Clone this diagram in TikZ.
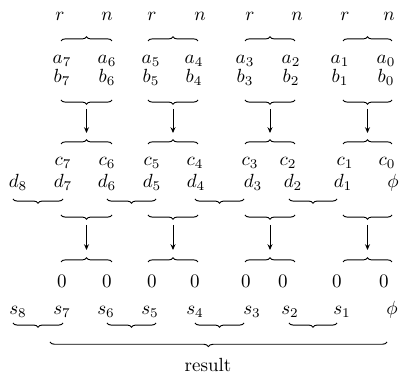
\documentclass[tikz,border=0pt]{standalone}
\usetikzlibrary{decorations.pathreplacing,arrows.meta}
\begin{document}
\begin{tikzpicture}[x=0.525pt,y=0.525pt,
  lbl/.style={inner sep=0pt,anchor=base},
  bup/.style={decorate,decoration={brace,amplitude=2.2pt},line width=0.5pt},
  bdown/.style={decorate,decoration={brace,mirror,amplitude=2.2pt},line width=0.5pt},
  flow/.style={-{Stealth[length=3pt,width=2.6pt]},line width=0.5pt}]
\useasboundingbox (0,0) rectangle (401,377);

% top labels
\foreach \k/\x/\t in {r1/60/r,n1/107/n,r2/152/r,n2/200/n,r3/250/r,n3/297/n,r4/345/r,n4/389/n}
  \node[lbl] (\k) at (\x,356) {$\t$};

% operand rows a and b
\foreach \i/\x in {7/62,6/107,5/151,4/194,3/245,2/291,1/340,0/386}{
  \node[lbl] (a\i) at (\x,313) {$a_{\i}$};
  \node[lbl] (b\i) at (\x,294) {$b_{\i}$};
}

% rows c and d
\foreach \i/\x in {7/63,6/107,5/152,4/195,3/250,2/288,1/345,0/387}
  \node[lbl] (c\i) at (\x,211) {$c_{\i}$};
\foreach \i/\x in {8/18,7/63,6/107,5/152,4/196,3/253,2/293,1/343}
  \node[lbl] (d\i) at (\x,189) {$d_{\i}$};
\node[lbl] (dphi) at (393,189) {$\phi$};

% zero row and sums
\foreach \i/\x in {7/62,6/107,5/152,4/195,3/246,2/283,1/337,0/384}
  \node[lbl] (z\i) at (\x,89) {$0$};
\foreach \i/\x in {8/18,7/62,6/106,5/150,4/195,3/252,2/290,1/342}
  \node[lbl] (s\i) at (\x,62) {$s_{\i}$};
\node[lbl] (sphi) at (392,62) {$\phi$};

\node[lbl] (res) at (208,5) {result};

% pairwise braces and arrows
\foreach \g/\l/\r in {1/61/112,2/148/198,3/245/295,4/343/392}{
  \coordinate (pL\g) at (\l,336); \coordinate (pR\g) at (\r,336);
  \coordinate (qL\g) at (\l,277); \coordinate (qR\g) at (\r,277);
  \coordinate (cL\g) at (\l,233); \coordinate (cR\g) at (\r,233);
  \coordinate (eL\g) at (\l,162); \coordinate (eR\g) at (\r,162);
  \coordinate (zL\g) at (\l,115); \coordinate (zR\g) at (\r,115);
  \coordinate (qT\g) at ({(\l+\r)/2},268);
  \coordinate (cT\g) at ({(\l+\r)/2},244);
  \coordinate (eT\g) at ({(\l+\r)/2},152);
  \coordinate (zT\g) at ({(\l+\r)/2},127);
  \draw[bup] (pL\g) -- (pR\g);
  \draw[bdown] (qL\g) -- (qR\g);
  \draw[bup] (cL\g) -- (cR\g);
  \draw[bdown] (eL\g) -- (eR\g);
  \draw[bup] (zL\g) -- (zR\g);
  \draw[flow] (qT\g) -- (cT\g);
  \draw[flow] (eT\g) -- (zT\g);
}

% shifted braces under the d and s rows
\foreach \g/\l/\r in {1/13/63,2/107/156,3/195/244,4/289/337}{
  \coordinate (dL\g) at (\l,178); \coordinate (dR\g) at (\r,178);
  \coordinate (sL\g) at (\l,54); \coordinate (sR\g) at (\r,54);
  \draw[bdown] (dL\g) -- (dR\g);
  \draw[bdown] (sL\g) -- (sR\g);
}

% overall result brace
\coordinate (bigL) at (50,35);
\coordinate (bigR) at (387,35);
\draw[decorate,decoration={brace,mirror,amplitude=2.4pt,aspect=0.47},line width=0.5pt] (bigL) -- (bigR);
\end{tikzpicture}
\end{document}
